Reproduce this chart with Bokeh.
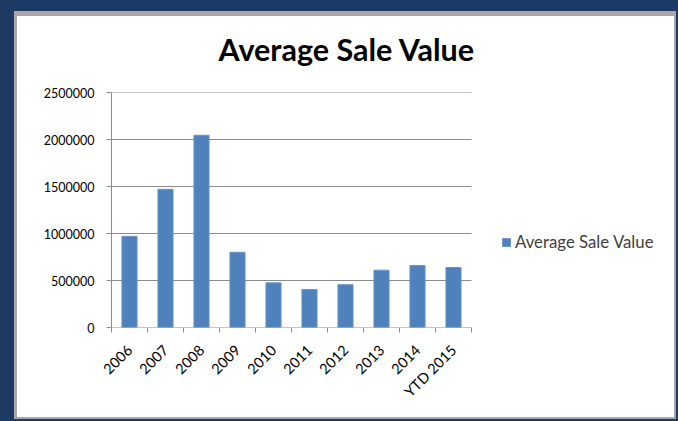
from math import pi
from bokeh.plotting import figure
from bokeh.models import (ColumnDataSource, Range1d, FixedTicker, Legend, LegendItem,
                          GlobalInlineStyleSheet, NumeralTickFormatter)
from bokeh.embed import file_html
from bokeh.resources import INLINE

# ---- data ----
categories = ["2006", "2007", "2008", "2009", "2010", "2011", "2012", "2013", "2014", "YTD 2015"]
values = [970000, 1470000, 2045000, 800000, 475000, 405000, 455000, 610000, 660000, 638000]
y_ticks = [0, 500000, 1000000, 1500000, 2000000, 2500000]
series_name = "Average Sale Value"
title_text = "Average Sale Value"

# ---- styles ----
NAVY = "#1C3A64"
BEVEL = "#A8A8A8"
BAR = "#4F81BD"
GRID = "#8C8C8C"
FONT = "Lato"

FIG_W, FIG_H = 678, 421
BORDER_L, BORDER_R, BORDER_T, BORDER_B = 111, 4, 92, 94
CAT_PX = 36  # pixel width of one category slot

n = len(categories)
positions = list(range(1, n + 1))
boundaries = [i + 0.5 for i in range(0, n + 1)]
source = ColumnDataSource(dict(x=positions, top=values, cat=categories))
grid_src = ColumnDataSource(dict(x0=[0.5] * len(y_ticks), x1=[n + 0.5] * len(y_ticks),
                                 y=y_ticks))

frame_w = FIG_W - BORDER_L - BORDER_R
x_end = 0.5 + frame_w / CAT_PX

p = figure(width=FIG_W, height=FIG_H, output_backend="svg", toolbar_location=None,
           x_range=Range1d(0.5, x_end),
           y_range=Range1d(y_ticks[0], y_ticks[-1]),
           min_border_left=BORDER_L, min_border_right=BORDER_R,
           min_border_top=BORDER_T, min_border_bottom=BORDER_B)

p.stylesheets = [GlobalInlineStyleSheet(
    css="html, body { margin: 0 !important; padding: 0 !important; background: %s !important; overflow: hidden; }" % NAVY)]
p.styles = {
    "background-color": "white",
    "box-shadow": ("inset 14px 11px 0 0 {n}, inset -2px -2px 0 0 {n}, "
                   "inset 17px 16px 0 0 {b}, inset -4px -4px 0 0 {b}").format(n=NAVY, b=BEVEL),
}

p.border_fill_color = None
p.background_fill_color = None
p.outline_line_color = None
p.xgrid.grid_line_color = None
p.ygrid.grid_line_color = None

# horizontal gridlines (and baseline) limited to the category area
p.segment(x0="x0", x1="x1", y0="y", y1="y", source=grid_src,
          line_color=GRID, line_width=1)

r = p.vbar(x="x", top="top", width=0.42, bottom=0, source=source,
           fill_color=BAR, line_color="#6A95C8", line_width=1)

# title
p.title.text = title_text
p.title.text_font = FONT
p.title.text_font_size = "30.5px"
p.title.text_font_style = "bold"
p.title.text_color = "black"
p.title.align = "left"
p.title.vertical_align = "bottom"
p.title.offset = 107
p.title.standoff = 52

# x axis
xa = p.xaxis[0]
xa.bounds = (0.5, n + 0.5)
xa.ticker = FixedTicker(ticks=positions, minor_ticks=boundaries)
xa.major_label_overrides = {pos: cat for pos, cat in zip(positions, categories)}
xa.major_label_orientation = pi / 4
xa.major_tick_out = 0
xa.major_tick_in = 0
xa.minor_tick_out = 5
xa.minor_tick_in = 0
xa.minor_tick_line_color = GRID
xa.axis_line_color = None
xa.major_label_text_font = FONT
xa.major_label_text_font_size = "14.5px"
xa.major_label_text_color = "black"
xa.major_label_standoff = 15

# y axis
ya = p.yaxis[0]
ya.ticker = FixedTicker(ticks=y_ticks, minor_ticks=[])
ya.formatter = NumeralTickFormatter(format="0")
ya.major_tick_out = 5
ya.major_tick_in = 0
ya.minor_tick_out = 0
ya.minor_tick_in = 0
ya.major_tick_line_color = GRID
ya.axis_line_color = GRID
ya.major_label_text_font = FONT
ya.major_label_text_font_size = "12.5px"
ya.major_label_text_color = "black"
ya.major_label_standoff = 12

legend = Legend(items=[LegendItem(label=series_name, renderers=[r])],
                location=(390, 75), orientation="vertical",
                glyph_width=10, glyph_height=10, label_standoff=4,
                padding=0, margin=0, spacing=0,
                border_line_color=None, background_fill_alpha=0,
                label_text_font=FONT, label_text_font_size="16.8px",
                label_text_color="#404040")
p.add_layout(legend, "center")

open("out.html", "w").write(file_html(p, INLINE))
